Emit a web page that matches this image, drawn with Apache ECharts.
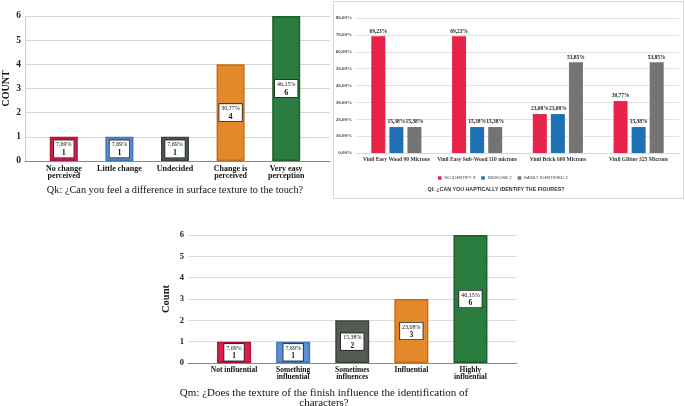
<!DOCTYPE html>
<html><head><meta charset="utf-8">
<script src="https://cdn.jsdelivr.net/npm/echarts@6/dist/echarts.min.js"></script>
<style>html,body{margin:0;padding:0;background:#fff}#c{width:685px;height:406px}</style>
</head><body><div id="c"></div>
<script>
// Chart Qk
const qkCategories = ['No change\nperceived', 'Little change', 'Undecided', 'Change is\nperceived', 'Very easy\nperception'];
const qkCounts = [1, 1, 1, 4, 6];
const qkPercents = ['7,69%', '7,69%', '7,69%', '30,77%', '46,15%'];
const qkTitle = 'Qk: ¿Can you feel a difference in surface texture to the touch?';
// Chart Ql
const qlCategories = ['Vinil Easy Wood 90 Microns', 'Vinil Easy Sub-Wood 110 microns', 'Vinil Brick 600 Microns', 'Vinil Glitter 325 Microns'];
const qlNoIdentify = [69.23, 69.23, 23.08, 30.77];
const qlIndecise = [15.38, 15.38, 23.08, 15.38];
const qlEasily = [15.38, 15.38, 53.85, 53.85];
const qlSeriesNames = ['NO IDENTIFY 9', 'INDECISE 2', 'EASILY IDENTIFIED 2'];
const qlTitle = 'Ql: ¿CAN YOU HAPTICALLY IDENTIFY THE FIGURES?';
// Chart Qm
const qmCategories = ['Not influential', 'Something\ninfluential', 'Sometimes\ninfluences', 'Influential', 'Highly\ninfluential'];
const qmCounts = [1, 1, 2, 3, 6];
const qmPercents = ['7,69%', '7,69%', '15,38%', '23,08%', '46,15%'];
const qmTitle1 = 'Qm: ¿Does the texture of the finish influence the identification of';
const qmTitle2 = 'characters?';
const countTicks = [0, 1, 2, 3, 4, 5, 6];

const serif = 'Liberation Serif';
const sans = 'Liberation Sans';
const qkColors = [['#dc1d4b', '#a8163a'], ['#5b8fd0', '#3f74b5'], ['#525c55', '#3b433d'], ['#e3892b', '#c06e18'], ['#2a7d3e', '#1d5e2d']];
const qlColors = ['#e8234a', '#2070b4', '#767373'];

function barItems(counts, pcts) {
  return counts.map((v, i) => ({
    value: v,
    itemStyle: { color: qkColors[i][0], borderColor: qkColors[i][1], borderWidth: 1.5 },
    label: { formatter: '{p|' + pcts[i] + '}\n{n|' + v + '}' }
  }));
}
const boxLabel = (ps, ns) => ({
  show: true, position: 'inside', backgroundColor: '#fff', borderColor: '#222', borderWidth: 0.8,
  padding: [1, 2, 0, 2], align: 'center',
  rich: { p: { fontFamily: serif, fontSize: ps, color: '#111', lineHeight: ps + 1, align: 'center' },
          n: { fontFamily: serif, fontSize: ns, fontWeight: 'bold', color: '#111', lineHeight: ns + 1, align: 'center' } }
});

const chart = echarts.init(document.getElementById('c'));
chart.setOption({
  animation: false,
  grid: [
    { left: 22, width: 308, top: 16, height: 145 },   // 0 Qk background
    { left: 36, width: 278, top: 16, height: 145 },   // 1 Qk bars
    { left: 356, width: 323, top: 18, height: 135 },  // 2 Ql
    { left: 188, width: 329, top: 235, height: 128 }, // 3 Qm background
    { left: 204.5, width: 295.5, top: 235, height: 128 } // 4 Qm bars
  ],
  xAxis: [
    { gridIndex: 0, type: 'value', min: 0, max: 1, axisLabel: { show: false }, axisTick: { show: false }, splitLine: { show: false },
      axisLine: { show: true, lineStyle: { color: '#888', width: 1 } } },
    { gridIndex: 1, type: 'category', data: qkCategories, axisLine: { show: false }, axisTick: { show: false },
      axisLabel: { interval: 0, margin: 4, fontFamily: serif, fontWeight: 'bold', fontSize: 8, lineHeight: 7.5, color: '#111' } },
    { gridIndex: 2, type: 'category', data: qlCategories, axisLine: { lineStyle: { color: '#d9d9d9' } }, axisTick: { show: false },
      axisLabel: { interval: 0, margin: 4, fontFamily: serif, fontWeight: 'bold', fontSize: 5.5, color: '#333' } },
    { gridIndex: 3, type: 'value', min: 0, max: 1, axisLabel: { show: false }, axisTick: { show: false }, splitLine: { show: false },
      axisLine: { show: true, lineStyle: { color: '#888', width: 1 } } },
    { gridIndex: 4, type: 'category', data: qmCategories, axisLine: { show: false }, axisTick: { show: false },
      axisLabel: { interval: 0, margin: 3, fontFamily: serif, fontWeight: 'bold', fontSize: 7.5, lineHeight: 7.5, color: '#111' } }
  ],
  yAxis: [
    { gridIndex: 0, type: 'value', min: 0, max: 6, interval: 1, name: 'COUNT', nameLocation: 'middle', nameGap: 14,
      nameTextStyle: { fontFamily: serif, fontWeight: 'bold', fontSize: 10, color: '#111' },
      axisLine: { show: true, lineStyle: { color: '#ccc' } }, axisTick: { show: false },
      axisLabel: { margin: 4, fontFamily: serif, fontWeight: 'bold', fontSize: 9.5, color: '#222' },
      splitLine: { lineStyle: { color: '#d4d4d4', width: 1 } } },
    { gridIndex: 1, type: 'value', min: 0, max: 6, interval: 1, show: false },
    { gridIndex: 2, type: 'value', min: 0, max: 80, interval: 10,
      axisLine: { show: false }, axisTick: { show: false },
      axisLabel: { margin: 4, fontFamily: serif, fontWeight: 'bold', fontSize: 5, color: '#444',
        formatter: v => v.toFixed(2).replace('.', ',') + '%' },
      splitLine: { lineStyle: { color: '#e2e2e2', width: 1 } } },
    { gridIndex: 3, type: 'value', min: 0, max: 6, interval: 1, name: 'Count', nameLocation: 'middle', nameGap: 16,
      nameTextStyle: { fontFamily: serif, fontWeight: 'bold', fontSize: 10.5, color: '#111' },
      axisLine: { show: false }, axisTick: { show: false },
      axisLabel: { margin: 4, fontFamily: serif, fontWeight: 'bold', fontSize: 8.5, color: '#222' },
      splitLine: { lineStyle: { color: '#dcdcdc', width: 1 } } },
    { gridIndex: 4, type: 'value', min: 0, max: 6, interval: 1, show: false }
  ],
  legend: {
    left: 438, top: 176, itemWidth: 3.5, itemHeight: 3.5, itemGap: 6, icon: 'rect', padding: 0,
    data: qlSeriesNames, textStyle: { fontFamily: sans, fontSize: 4.3, color: '#444', padding: [0, 0, 0, -2] }
  },
  series: [
    { type: 'bar', xAxisIndex: 1, yAxisIndex: 1, barWidth: 28, data: barItems(qkCounts, qkPercents), label: boxLabel(6, 8) },
    ...[qlNoIdentify, qlIndecise, qlEasily].map((d, k) => ({
      type: 'bar', name: qlSeriesNames[k], xAxisIndex: 2, yAxisIndex: 2, data: d, barWidth: 14, barGap: '29%',
      itemStyle: { color: qlColors[k] },
      label: { show: true, position: 'top', distance: 2, fontFamily: serif, fontWeight: 'bold', fontSize: 5.5, color: '#222',
        formatter: p => p.value.toFixed(2).replace('.', ',') + '%' }
    })),
    { type: 'bar', xAxisIndex: 4, yAxisIndex: 4, barWidth: 34, data: barItems(qmCounts, qmPercents), label: boxLabel(6, 7.5) }
  ],
  graphic: [
    { type: 'rect', shape: { x: 333.5, y: 1.5, width: 350, height: 197 }, style: { fill: 'none', stroke: '#d9d9d9', lineWidth: 1 }, z: -1 },
    { type: 'text', x: 175, y: 190, style: { text: qkTitle, font: '10.3px "Liberation Serif"', fill: '#111', align: 'center', verticalAlign: 'middle' } },
    { type: 'text', x: 496, y: 189.5, style: { text: qlTitle, font: 'bold 5.3px "Liberation Sans"', fill: '#333', align: 'center', verticalAlign: 'middle' } },
    { type: 'text', x: 324, y: 393, style: { text: qmTitle1, font: '11px "Liberation Serif"', fill: '#111', align: 'center', verticalAlign: 'middle' } },
    { type: 'text', x: 324, y: 403, style: { text: qmTitle2, font: '11px "Liberation Serif"', fill: '#111', align: 'center', verticalAlign: 'middle' } }
  ]
});
</script></body></html>
